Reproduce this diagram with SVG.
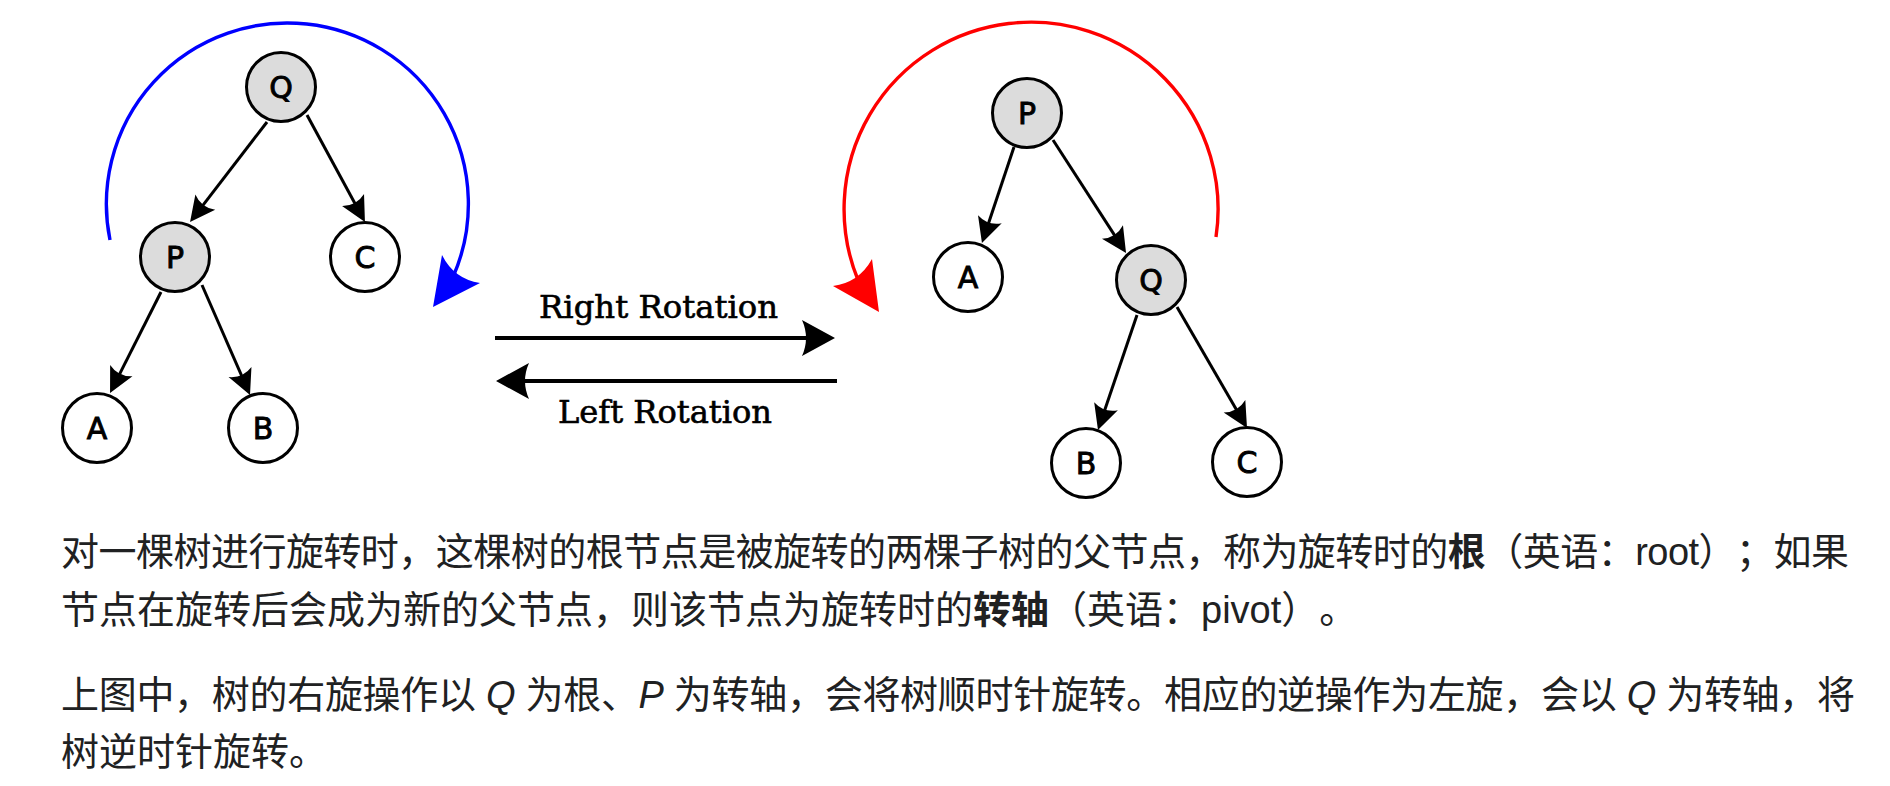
<svg xmlns="http://www.w3.org/2000/svg" width="1890" height="786" viewBox="0 0 1890 786">
<style>
.node circle{stroke:#000;stroke-width:3}
.inner circle{fill:#dcdcdc}
.leaf circle{fill:#fff}
.lbl{font-family:"DejaVu Sans",sans-serif;font-size:30px;text-anchor:middle;fill:#000;stroke:#000;stroke-width:0.9}
.edge{stroke:#000;stroke-width:3;fill:none;marker-end:url(#dart)}
.rot{stroke:#000;stroke-width:4;fill:none;marker-end:url(#bigdart)}
.rotlbl{font-family:"DejaVu Serif",serif;font-size:31px;text-anchor:middle;fill:#000;stroke:#000;stroke-width:0.6}
.para{font-family:"Liberation Sans","Noto Sans CJK SC",sans-serif;font-size:38px;fill:#202122;text-spacing-trim:space-all}
.b{font-weight:bold}
.i{font-style:italic}
</style>
<defs>
<marker id="dart" markerUnits="userSpaceOnUse" markerWidth="40" markerHeight="40" viewBox="-20 -20 40 40" refX="0" refY="0" orient="auto" overflow="visible">
<path d="M15,0 L-10,-12.5 Q-3,0 -10,12.5 Z" fill="#000"/>
</marker>
<marker id="bigdart" markerUnits="userSpaceOnUse" markerWidth="60" markerHeight="60" viewBox="-30 -30 60 60" refX="0" refY="0" orient="auto" overflow="visible">
<path d="M20,0 L-13,-18 Q-5,0 -13,18 Z" fill="#000"/>
</marker>
</defs>
<rect width="1890" height="786" fill="#fff"/>

<g id="connectors">
<path class="edge" d="M267,122 L199.2,210.1"/>
<path class="edge" d="M307,115 L357.8,208.8"/>
<path class="edge" d="M161,292 L116.8,379.6"/>
<path class="edge" d="M202,285 L244,381.2"/>
<path class="edge" d="M1014,147 L986.7,228.8"/>
<path class="edge" d="M1053,140 L1117.9,240.4"/>
<path class="edge" d="M1137,315 L1102.8,415.8"/>
<path class="edge" d="M1177,307 L1239.5,415"/>
<path class="rot" d="M495,338 L815,338"/>
<path class="rot" d="M837,381 L516,381"/>
<g id="arc-blue">
<path d="M110,240 A181,181 0 1 1 453,277" stroke="#0000ff" stroke-width="3.4" fill="none"/>
<path d="M433,307 L442,255 Q454,279 480,283 Z" fill="#0000ff"/>
</g>
<g id="arc-red">
<path d="M1216,237 A187,187 0 1 0 858,280" stroke="#ff0000" stroke-width="3.4" fill="none"/>
<path d="M879,312 L833,286 Q859,282.5 872,259 Z" fill="#ff0000"/>
</g>
</g>

<g id="left-Q" class="node inner"><circle cx="281" cy="87" r="34.5"/><text class="lbl" x="281" y="98">Q</text></g>
<g id="left-P" class="node inner"><circle cx="175" cy="257" r="34.5"/><text class="lbl" x="175" y="268">P</text></g>
<g id="left-C" class="node leaf"><circle cx="365" cy="257" r="34.5"/><text class="lbl" x="365" y="268">C</text></g>
<g id="left-A" class="node leaf"><circle cx="97" cy="428" r="34.5"/><text class="lbl" x="97" y="439">A</text></g>
<g id="left-B" class="node leaf"><circle cx="263" cy="428" r="34.5"/><text class="lbl" x="263" y="439">B</text></g>

<g id="right-P" class="node inner"><circle cx="1027" cy="113" r="34.5"/><text class="lbl" x="1027" y="124">P</text></g>
<g id="right-A" class="node leaf"><circle cx="968" cy="277" r="34.5"/><text class="lbl" x="968" y="288">A</text></g>
<g id="right-Q" class="node inner"><circle cx="1151" cy="280" r="34.5"/><text class="lbl" x="1151" y="291">Q</text></g>
<g id="right-B" class="node leaf"><circle cx="1086" cy="463" r="34.5"/><text class="lbl" x="1086" y="474">B</text></g>
<g id="right-C" class="node leaf"><circle cx="1247" cy="462" r="34.5"/><text class="lbl" x="1247" y="473">C</text></g>

<g id="rotation-labels">
<text class="rotlbl" x="658.5" y="318" textLength="239" lengthAdjust="spacingAndGlyphs">Right Rotation</text>
<text class="rotlbl" x="665" y="423" textLength="214" lengthAdjust="spacingAndGlyphs">Left Rotation</text>
</g>

<g id="caption">
<text class="para" x="61" y="565" textLength="1788">对一棵树进行旋转时，这棵树的根节点是被旋转的两棵子树的父节点，称为旋转时的<tspan class="b">根</tspan>（英语：root）；如果</text>
<text class="para" x="61" y="623">节点在旋转后会成为新的父节点，则该节点为旋转时的<tspan class="b">转轴</tspan>（英语：pivot）。</text>
<text class="para" x="61" y="708" textLength="1794">上图中，树的右旋操作以 <tspan class="i">Q</tspan> 为根、<tspan class="i">P</tspan> 为转轴，会将树顺时针旋转。相应的逆操作为左旋，会以 <tspan class="i">Q</tspan> 为转轴，将</text>
<text class="para" x="61" y="765">树逆时针旋转。</text>
</g>
</svg>
